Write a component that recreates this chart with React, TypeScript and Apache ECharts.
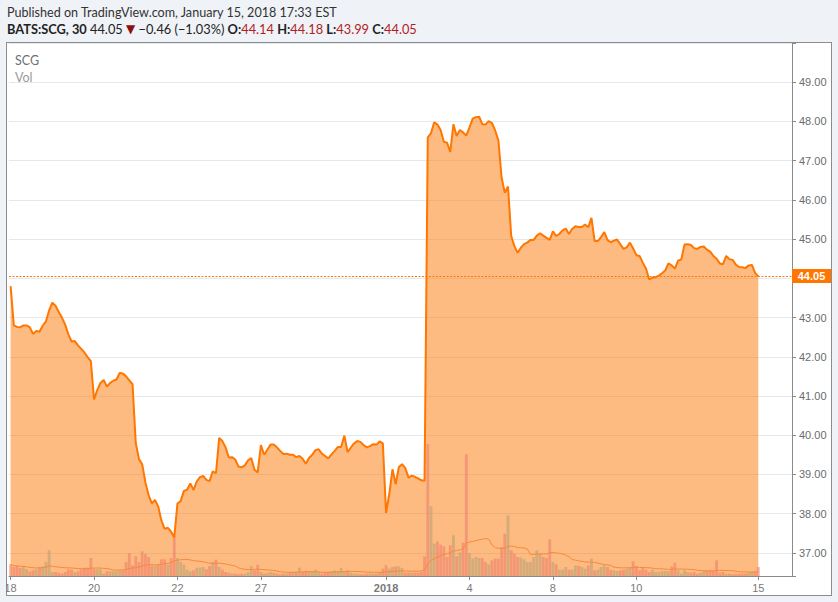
import React, { useEffect, useRef } from "react";
import * as echarts from "echarts";

// 30-minute closes, 13 bars per session
const priceDec18 = [43.80, 42.80, 42.76, 42.75, 42.80, 42.80, 42.75, 42.58, 42.66, 42.64, 42.79, 42.90, 43.18];
const priceDec19 = [43.38, 43.30, 43.14, 43.00, 42.82, 42.57, 42.39, 42.40, 42.29, 42.20, 42.11, 41.99, 41.89];
const priceDec20 = [40.91, 41.15, 41.33, 41.41, 41.24, 41.33, 41.39, 41.42, 41.59, 41.57, 41.50, 41.40, 41.30];
const priceDec21 = [39.80, 39.39, 39.26, 38.80, 38.47, 38.26, 38.35, 38.18, 37.82, 37.61, 37.64, 37.54, 37.40];
const priceDec22 = [38.26, 38.32, 38.58, 38.61, 38.77, 38.60, 38.82, 38.93, 38.96, 38.86, 38.83, 39.08, 39.03];
const priceDec26 = [39.93, 39.85, 39.69, 39.43, 39.44, 39.38, 39.20, 39.18, 39.23, 39.36, 39.42, 39.12, 39.05];
const priceDec27 = [39.75, 39.50, 39.63, 39.76, 39.76, 39.69, 39.60, 39.52, 39.53, 39.50, 39.50, 39.44, 39.47];
const priceDec28 = [39.40, 39.27, 39.42, 39.50, 39.62, 39.64, 39.53, 39.47, 39.41, 39.51, 39.60, 39.70, 39.70];
const priceDec29 = [39.99, 39.57, 39.68, 39.79, 39.85, 39.83, 39.75, 39.69, 39.72, 39.77, 39.76, 39.84, 39.79];
const priceJan02 = [38.02, 38.50, 39.13, 38.75, 39.19, 39.26, 39.16, 38.92, 38.97, 38.94, 38.90, 38.85, 38.84];
const priceJan03 = [47.59, 47.70, 47.98, 47.92, 47.78, 47.48, 47.46, 47.22, 47.93, 47.63, 47.78, 47.72, 47.64];
const priceJan04 = [47.85, 48.07, 48.11, 48.12, 47.93, 47.92, 48.01, 47.96, 47.77, 47.52, 46.57, 46.18, 46.34];
const priceJan05 = [45.08, 44.82, 44.65, 44.78, 44.87, 44.91, 44.98, 44.98, 45.09, 45.15, 45.09, 45.03, 44.98];
const priceJan08 = [45.20, 45.08, 45.13, 45.22, 45.27, 45.13, 45.26, 45.33, 45.31, 45.31, 45.37, 45.30, 45.54];
const priceJan09 = [44.95, 44.95, 45.05, 45.18, 44.98, 44.92, 44.96, 44.99, 44.87, 44.75, 44.79, 44.91, 44.76];
const priceJan10 = [44.59, 44.57, 44.40, 44.25, 43.97, 44.02, 44.03, 44.07, 44.13, 44.20, 44.38, 44.33, 44.25];
const priceJan11 = [44.45, 44.48, 44.86, 44.87, 44.85, 44.77, 44.75, 44.80, 44.81, 44.73, 44.68, 44.57, 44.50];
const priceJan12 = [44.38, 44.36, 44.57, 44.49, 44.47, 44.35, 44.29, 44.28, 44.26, 44.33, 44.34, 44.14, 44.05];

// volume per bar (thousand shares)
const volDec18 = [117, 90, 100, 80, 97, 70, 47, 57, 67, 90, 97, 140, 257];
const volDec19 = [40, 40, 33, 23, 40, 67, 63, 40, 47, 67, 83, 83, 180];
const volDec20 = [67, 67, 67, 23, 47, 47, 47, 47, 57, 57, 140, 230, 107];
const volDec21 = [197, 140, 247, 220, 190, 107, 100, 113, 167, 167, 113, 180, 397];
const volDec22 = [180, 140, 113, 63, 47, 57, 83, 83, 90, 67, 100, 140, 163];
const volDec26 = [90, 63, 40, 33, 23, 23, 17, 23, 23, 40, 100, 57, 113];
const volDec27 = [40, 23, 30, 40, 33, 23, 17, 23, 23, 33, 40, 40, 83];
const volDec28 = [40, 47, 40, 40, 63, 40, 23, 30, 40, 47, 57, 50, 80];
const volDec29 = [40, 57, 33, 23, 23, 17, 17, 23, 23, 23, 23, 40, 73];
const volJan02 = [107, 73, 90, 97, 97, 80, 33, 33, 33, 33, 33, 40, 197];
const volJan03 = [1320, 697, 323, 347, 313, 297, 190, 307, 407, 197, 233, 333, 1217];
const volJan04 = [230, 173, 190, 180, 180, 140, 117, 157, 173, 173, 290, 423, 607];
const volJan05 = [257, 223, 190, 183, 167, 140, 140, 190, 257, 223, 190, 180, 367];
const volJan08 = [140, 117, 63, 63, 90, 63, 63, 107, 100, 90, 73, 107, 173];
const volJan09 = [57, 63, 90, 107, 90, 63, 57, 50, 57, 63, 70, 90, 147];
const volJan10 = [100, 57, 90, 63, 40, 63, 40, 40, 50, 50, 47, 97, 133];
const volJan11 = [57, 23, 57, 40, 33, 40, 23, 33, 50, 50, 57, 50, 157];
const volJan12 = [33, 40, 23, 23, 17, 23, 23, 23, 23, 33, 40, 45, 90];

// bars that closed below their open despite a higher close than the bar before
const downBarOverride = [130];

// x-axis tick labels and the bar index where each session tick sits
const tickLabels = ["18", "20", "22", "27", "2018", "4", "8", "10", "15"];
const tickIndex = [0, 26, 52, 78, 117, 143, 169, 195, 233];

const lastBar = { o: "44.14", h: "44.18", l: "43.99", c: "44.05" };
const dayChange = "\u22120.46";
const dayChangePct = "\u22121.03%";

const closes = [
  ...priceDec18, ...priceDec19, ...priceDec20, ...priceDec21, ...priceDec22,
  ...priceDec26, ...priceDec27, ...priceDec28, ...priceDec29, ...priceJan02,
  ...priceJan03, ...priceJan04, ...priceJan05, ...priceJan08, ...priceJan09,
  ...priceJan10, ...priceJan11, ...priceJan12,
];
const volumes = [
  ...volDec18, ...volDec19, ...volDec20, ...volDec21, ...volDec22,
  ...volDec26, ...volDec27, ...volDec28, ...volDec29, ...volJan02,
  ...volJan03, ...volJan04, ...volJan05, ...volJan08, ...volJan09,
  ...volJan10, ...volJan11, ...volJan12,
];

const SLOTS = 244;
const categories = Array.from({ length: SLOTS }, (_, i) => String(i));

const volMA: number[] = volumes.map((_, i) => {
  const from = Math.max(0, i - 19);
  let s = 0;
  for (let k = from; k <= i; k++) s += volumes[k];
  return +(s / (i - from + 1)).toFixed(1);
});

const volItems = volumes.map((v, i) => {
  const up = i > 0 && closes[i] >= closes[i - 1] && !downBarOverride.includes(i);
  return {
    value: v,
    itemStyle: { color: up ? "rgba(186,160,116,0.6)" : "rgba(238,126,108,0.6)" },
  };
});

const FONT_UI = "Lato, 'Open Sans', sans-serif";
const FONT_AX = "'Liberation Sans', Arial, sans-serif";

export default function App() {
  const ref = useRef<HTMLDivElement>(null);

  useEffect(() => {
    if (!ref.current) return;
    const chart = echarts.init(ref.current, undefined, { renderer: "svg" });
    const showTick = (index: number) => tickIndex.includes(index);
    const last = closes[closes.length - 1];

    chart.setOption({
      animation: false,
      grid: { left: 9, right: 46, top: 43, bottom: 26, containLabel: false },
      xAxis: {
        type: "category",
        data: categories,
        boundaryGap: true,
        axisLine: { show: true, lineStyle: { color: "#8A8A8A", width: 1 } },
        axisTick: { show: true, interval: showTick, alignWithLabel: true, length: 4, lineStyle: { color: "#8A8A8A" } },
        axisLabel: {
          interval: showTick,
          margin: 6,
          color: "#7A7A7A",
          fontSize: 11,
          fontFamily: FONT_AX,
          formatter: (v: string) => {
            const k = tickIndex.indexOf(Number(v));
            if (k < 0) return "";
            const t = tickLabels[k];
            return t.length === 4 ? "{y|" + t + "}" : t;
          },
          rich: { y: { fontWeight: "bold", fontSize: 11, fontFamily: FONT_AX, color: "#7A7A7A" } },
        },
        splitLine: { show: false },
      },
      yAxis: [
        {
          type: "value",
          position: "right",
          min: 36.41,
          max: 50.0,
          splitNumber: 13,
          axisLine: { show: true, lineStyle: { color: "#8A8A8A" } },
          axisTick: { show: true, length: 4, lineStyle: { color: "#8A8A8A" } },
          axisLabel: {
            margin: 7,
            color: "#6B6B6B",
            fontSize: 11,
            fontFamily: FONT_AX,
            formatter: (v: number) =>
              v > 36.5 && v < 49.5 && Math.abs(v - Math.round(v)) < 1e-6 && Math.abs(v - last) > 0.3
                ? v.toFixed(2)
                : "",
          },
          splitLine: { show: true, lineStyle: { color: "#E2EAF1", width: 1 } },
        },
        { type: "value", min: 0, max: 5330, show: false },
      ],
      series: [
        {
          name: "area",
          type: "line",
          data: closes,
          yAxisIndex: 0,
          symbol: "none",
          silent: true,
          z: 1,
          lineStyle: { width: 0 },
          areaStyle: { color: "rgb(252,120,4)", opacity: 0.5, origin: "start" },
        },
        {
          name: "Vol",
          type: "bar",
          data: volItems,
          yAxisIndex: 1,
          barCategoryGap: "12%",
          silent: true,
          z: 2,
        },
        {
          name: "VolMA",
          type: "line",
          data: volMA,
          yAxisIndex: 1,
          symbol: "none",
          silent: true,
          z: 3,
          lineStyle: { color: "#F8893A", width: 1 },
        },
        {
          name: "SCG",
          type: "line",
          data: closes,
          yAxisIndex: 0,
          symbol: "none",
          silent: true,
          z: 4,
          lineStyle: { color: "#FF7600", width: 2 },
          markLine: {
            silent: true,
            symbol: "none",
            label: { show: false },
            lineStyle: { color: "#FF7600", width: 1, type: [2, 1.5] },
            data: [{ yAxis: last }],
          },
        },
      ],
      graphic: [
        {
          type: "text",
          id: "pub",
          x: 7,
          y: 12,
          style: {
            text: "Published on TradingView.com, January 15, 2018 17:33 EST",
            fill: "#333",
            font: "12.6px " + FONT_UI,
            verticalAlign: "middle",
          },
        },
        {
          type: "text",
          id: "ohlc",
          x: 7,
          y: 29,
          style: {
            text:
              "{b|BATS:SCG, 30} " + lastBar.c + " {d|\u25BC} " + dayChange + " (" + dayChangePct + ") " +
              "{b|O:}{r|" + lastBar.o + "} {b|H:}{r|" + lastBar.h + "} {b|L:}{r|" + lastBar.l + "} {b|C:}{r|" + lastBar.c + "}",
            fill: "#222",
            font: "12.8px " + FONT_UI,
            verticalAlign: "middle",
            rich: {
              b: { fontWeight: "bold", fontSize: 12.8, fontFamily: FONT_UI, fill: "#222" },
              d: { fontSize: 12, fontFamily: "'DejaVu Sans', sans-serif", fill: "#8E0F0F" },
              r: { fontSize: 12.8, fontFamily: FONT_UI, fill: "#B01E1E" },
            },
          },
        },
        {
          type: "text",
          id: "scg",
          x: 15,
          y: 60,
          style: { text: "SCG", fill: "#707070", font: "12.5px " + FONT_UI, verticalAlign: "middle" },
        },
        {
          type: "text",
          id: "vol",
          x: 15,
          y: 77,
          style: { text: "Vol", fill: "#9A9A9A", font: "12.5px " + FONT_UI, verticalAlign: "middle" },
        },
      ],
    });

    const py = chart.convertToPixel({ yAxisIndex: 0 }, last) as number;
    chart.setOption({
      graphic: [
        {
          type: "rect",
          id: "tagbox",
          shape: { x: 792, y: Math.round(py) - 7, width: 39, height: 14 },
          style: { fill: "#FF7600" },
          z: 50,
        },
        {
          type: "text",
          id: "tagtext",
          x: 811.5,
          y: Math.round(py),
          z: 51,
          style: {
            text: last.toFixed(2),
            fill: "#FFFFFF",
            font: "bold 11px " + FONT_AX,
            align: "center",
            verticalAlign: "middle",
          },
        },
      ],
    });

    return () => chart.dispose();
  }, []);

  return (
    <div style={{ position: "fixed", left: 0, top: 0, width: 838, height: 602, background: "#EFF2F7", overflow: "hidden" }}>
      <div
        style={{
          position: "absolute",
          left: 6,
          top: 42,
          width: 826,
          height: 554,
          boxSizing: "border-box",
          border: "1px solid #8C8C8C",
          background: "#FFFFFF",
        }}
      />
      <div ref={ref} style={{ position: "absolute", left: 0, top: 0, width: 838, height: 602 }} />
      <div style={{ position: "absolute", left: 0, top: 576, width: 6, height: 26, background: "#EFF2F7" }} />
    </div>
  );
}
